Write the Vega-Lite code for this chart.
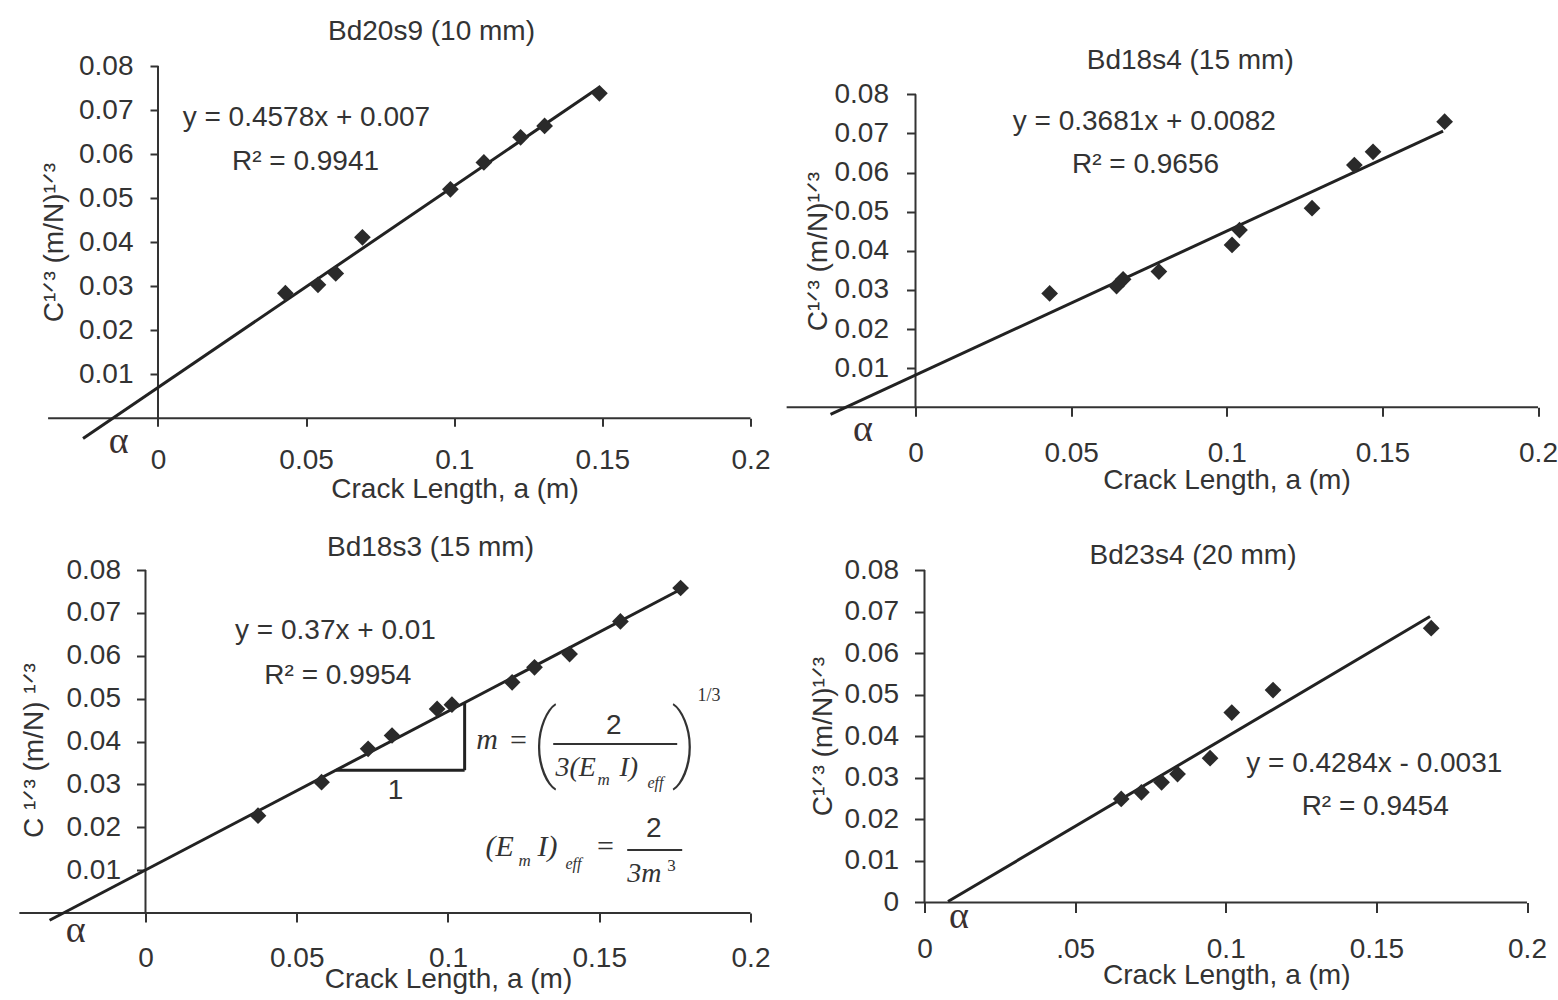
{
  "$schema": "https://vega.github.io/schema/vega-lite/v6.json",
  "background": "white",
  "padding": {"left": 17.5, "top": 18, "right": 5, "bottom": 5},
  "columns": 2,
  "align": "each",
  "bounds": "flush",
  "spacing": {"row": 151, "column": 36},
  "config": {
    "view": {"stroke": null},
    "font": "Liberation Sans",
    "axis": {
      "grid": false, "domain": false,
      "labelFont": "Liberation Sans", "labelFontSize": 28, "labelColor": "#333",
      "titleFont": "Liberation Sans", "titleFontSize": 28, "titleColor": "#333", "titleFontWeight": "normal",
      "tickColor": "#333", "tickWidth": 2,
      "labelFlush": false, "labelOverlap": false, "labelBound": false
    },
    "title": {"font": "Liberation Sans", "fontSize": 28, "fontWeight": "normal", "color": "#333", "anchor": "middle", "frame": "group", "offset": 0, "baseline": "alphabetic"},
    "text": {"font": "Liberation Sans", "fontSize": 28, "color": "#333"},
    "rule": {"color": "#333", "strokeWidth": 2}
  },
  "datasets": {
    "pts": [
      {"spec": "Bd20s9", "a": 0.043, "c": 0.0284},
      {"spec": "Bd20s9", "a": 0.054, "c": 0.0303},
      {"spec": "Bd20s9", "a": 0.060, "c": 0.0329},
      {"spec": "Bd20s9", "a": 0.069, "c": 0.0411},
      {"spec": "Bd20s9", "a": 0.0987, "c": 0.052},
      {"spec": "Bd20s9", "a": 0.110, "c": 0.0581},
      {"spec": "Bd20s9", "a": 0.1224, "c": 0.0638},
      {"spec": "Bd20s9", "a": 0.1305, "c": 0.0664},
      {"spec": "Bd20s9", "a": 0.149, "c": 0.0738},
      {"spec": "Bd18s4", "a": 0.0431, "c": 0.0291},
      {"spec": "Bd18s4", "a": 0.0646, "c": 0.031},
      {"spec": "Bd18s4", "a": 0.0667, "c": 0.0327},
      {"spec": "Bd18s4", "a": 0.0782, "c": 0.0347},
      {"spec": "Bd18s4", "a": 0.1017, "c": 0.0415},
      {"spec": "Bd18s4", "a": 0.1041, "c": 0.0453},
      {"spec": "Bd18s4", "a": 0.1274, "c": 0.0509},
      {"spec": "Bd18s4", "a": 0.141, "c": 0.0619},
      {"spec": "Bd18s4", "a": 0.147, "c": 0.0653},
      {"spec": "Bd18s4", "a": 0.170, "c": 0.073},
      {"spec": "Bd18s3", "a": 0.0372, "c": 0.0227},
      {"spec": "Bd18s3", "a": 0.0582, "c": 0.0305},
      {"spec": "Bd18s3", "a": 0.0736, "c": 0.0383},
      {"spec": "Bd18s3", "a": 0.0815, "c": 0.0414},
      {"spec": "Bd18s3", "a": 0.0964, "c": 0.0476},
      {"spec": "Bd18s3", "a": 0.1013, "c": 0.0486},
      {"spec": "Bd18s3", "a": 0.1212, "c": 0.0538},
      {"spec": "Bd18s3", "a": 0.1286, "c": 0.0573},
      {"spec": "Bd18s3", "a": 0.1402, "c": 0.0604},
      {"spec": "Bd18s3", "a": 0.157, "c": 0.068},
      {"spec": "Bd18s3", "a": 0.1769, "c": 0.0758},
      {"spec": "Bd23s4", "a": 0.0653, "c": 0.0249},
      {"spec": "Bd23s4", "a": 0.072, "c": 0.0265},
      {"spec": "Bd23s4", "a": 0.0787, "c": 0.0289},
      {"spec": "Bd23s4", "a": 0.084, "c": 0.0309},
      {"spec": "Bd23s4", "a": 0.0948, "c": 0.0347},
      {"spec": "Bd23s4", "a": 0.102, "c": 0.0457},
      {"spec": "Bd23s4", "a": 0.1157, "c": 0.0511},
      {"spec": "Bd23s4", "a": 0.1682, "c": 0.066}
    ],
    "fits": [
      {"spec": "Bd20s9", "a0": -0.0253, "c0": -0.0046, "a1": 0.149, "c1": 0.0752},
      {"spec": "Bd18s4", "a0": -0.0273, "c0": -0.0018, "a1": 0.1695, "c1": 0.0706},
      {"spec": "Bd18s3", "a0": -0.0317, "c0": -0.0017, "a1": 0.177, "c1": 0.0755},
      {"spec": "Bd23s4", "a0": 0.0078, "c0": 0.0002, "a1": 0.1678, "c1": 0.0688}
    ]
  },
  "concat": [
    {
      "width": 731, "height": 352.3,
      "title": {"text": "Bd20s9 (10 mm)", "dx": 46.5, "dy": -1.7},
      "data": {"values": [{}]},
      "layer": [
        {"mark": {"type": "rule"}, "encoding": {"x": {"datum": -0.0371}, "x2": {"datum": 0.2}, "y": {"datum": 0}}},
        {"mark": {"type": "rule"}, "encoding": {"x": {"datum": 0}, "y": {"datum": 0}, "y2": {"datum": 0.08}}},
        {
          "data": {"name": "fits"}, "transform": [{"filter": "datum.spec === 'Bd20s9'"}],
          "mark": {"type": "rule", "color": "#222", "strokeWidth": 3},
          "encoding": {"x": {"field": "a0", "type": "quantitative"}, "y": {"field": "c0", "type": "quantitative"}, "x2": {"field": "a1"}, "y2": {"field": "c1"}}
        },
        {
          "data": {"name": "pts"}, "transform": [{"filter": "datum.spec === 'Bd20s9'"}],
          "mark": {"type": "point", "shape": "diamond", "filled": true, "size": 280, "color": "#2a2a2a", "opacity": 1},
          "encoding": {
            "x": {"field": "a", "type": "quantitative", "scale": {"domain": [-0.04675, 0.2], "nice": false, "zero": false},
              "axis": {"title": "Crack Length, a (m)", "values": [0, 0.05, 0.1, 0.15, 0.2], "format": ".2~f", "offset": 0, "tickSize": 8, "labelPadding": 19.7, "titleX": 435, "titleY": 79, "titleBaseline": "alphabetic", "titleAlign": "center"}},
            "y": {"field": "c", "type": "quantitative", "scale": {"domain": [0, 0.08], "nice": false, "zero": false},
              "axis": {"title": "C¹ᐟ³ (m/N)¹ᐟ³", "values": [0.01, 0.02, 0.03, 0.04, 0.05, 0.06, 0.07, 0.08], "format": ".2~f", "offset": -138.5, "tickSize": 8, "labelPadding": 17, "titleAngle": 270, "titleX": -95.5, "titleY": 176, "titleBaseline": "alphabetic", "titleAlign": "center"}}
          }
        },
        {"mark": {"type": "text", "text": "y = 0.4578x + 0.007", "align": "center", "baseline": "middle"}, "encoding": {"x": {"datum": 0.0501}, "y": {"datum": 0.0682}}},
        {"mark": {"type": "text", "text": "R² = 0.9941", "align": "center", "baseline": "middle"}, "encoding": {"x": {"datum": 0.0498}, "y": {"datum": 0.0582}}},
        {"mark": {"type": "text", "text": "α", "font": "Liberation Serif", "fontSize": 38, "color": "#3a3030", "align": "center", "baseline": "middle"}, "encoding": {"x": {"datum": -0.0133}, "y": {"datum": -0.0053}}}
      ]
    },
    {
      "width": 751.5, "height": 352.3,
      "title": {"text": "Bd18s4 (15 mm)", "dx": 28, "dy": 13.3},
      "data": {"values": [{}]},
      "layer": [
        {"mark": {"type": "rule"}, "encoding": {"x": {"datum": -0.0414}, "x2": {"datum": 0.2}, "y": {"datum": 0}}},
        {"mark": {"type": "rule"}, "encoding": {"x": {"datum": 0}, "y": {"datum": 0}, "y2": {"datum": 0.08}}},
        {
          "data": {"name": "fits"}, "transform": [{"filter": "datum.spec === 'Bd18s4'"}],
          "mark": {"type": "rule", "color": "#222", "strokeWidth": 3},
          "encoding": {"x": {"field": "a0", "type": "quantitative"}, "y": {"field": "c0", "type": "quantitative"}, "x2": {"field": "a1"}, "y2": {"field": "c1"}}
        },
        {
          "data": {"name": "pts"}, "transform": [{"filter": "datum.spec === 'Bd18s4'"}],
          "mark": {"type": "point", "shape": "diamond", "filled": true, "size": 280, "color": "#2a2a2a", "opacity": 1},
          "encoding": {
            "x": {"field": "a", "type": "quantitative", "scale": {"domain": [-0.041446, 0.2], "nice": false, "zero": false},
              "axis": {"title": "Crack Length, a (m)", "values": [0, 0.05, 0.1, 0.15, 0.2], "format": ".2~f", "offset": -11, "tickSize": 9, "labelPadding": 22.7, "titleX": 440, "titleY": 80.7, "titleBaseline": "alphabetic", "titleAlign": "center"}},
            "y": {"field": "c", "type": "quantitative", "scale": {"domain": [-0.00281, 0.08723], "nice": false, "zero": false},
              "axis": {"title": "C¹ᐟ³ (m/N)¹ᐟ³", "values": [0.01, 0.02, 0.03, 0.04, 0.05, 0.06, 0.07, 0.08], "format": ".2~f", "offset": -129, "tickSize": 9, "labelPadding": 18, "titleAngle": 270, "titleX": -89, "titleY": 185, "titleBaseline": "alphabetic", "titleAlign": "center"}}
          }
        },
        {"mark": {"type": "text", "text": "y = 0.3681x + 0.0082", "align": "center", "baseline": "middle"}, "encoding": {"x": {"datum": 0.0735}, "y": {"datum": 0.073}}},
        {"mark": {"type": "text", "text": "R² = 0.9656", "align": "center", "baseline": "middle"}, "encoding": {"x": {"datum": 0.0739}, "y": {"datum": 0.0619}}},
        {"mark": {"type": "text", "text": "α", "font": "Liberation Serif", "fontSize": 38, "color": "#3a3030", "align": "center", "baseline": "middle"}, "encoding": {"x": {"datum": -0.0169}, "y": {"datum": -0.0058}}}
      ]
    },
    {
      "width": 731, "height": 343,
      "title": {"text": "Bd18s3 (15 mm)", "dx": 45.5, "dy": 9.7},
      "data": {"values": [{}]},
      "layer": [
        {"mark": {"type": "rule"}, "encoding": {"x": {"datum": -0.0417}, "x2": {"datum": 0.2}, "y": {"datum": 0}}},
        {"mark": {"type": "rule"}, "encoding": {"x": {"datum": 0}, "y": {"datum": 0}, "y2": {"datum": 0.08}}},
        {
          "data": {"name": "fits"}, "transform": [{"filter": "datum.spec === 'Bd18s3'"}],
          "mark": {"type": "rule", "color": "#222", "strokeWidth": 3},
          "encoding": {"x": {"field": "a0", "type": "quantitative"}, "y": {"field": "c0", "type": "quantitative"}, "x2": {"field": "a1"}, "y2": {"field": "c1"}}
        },
        {"mark": {"type": "rule", "color": "#222", "strokeWidth": 3}, "encoding": {"x": {"datum": 0.063}, "x2": {"datum": 0.1055}, "y": {"datum": 0.0333}}},
        {"mark": {"type": "rule", "color": "#222", "strokeWidth": 3}, "encoding": {"x": {"datum": 0.1055}, "y": {"datum": 0.0333}, "y2": {"datum": 0.04904}}},
        {
          "data": {"name": "pts"}, "transform": [{"filter": "datum.spec === 'Bd18s3'"}],
          "mark": {"type": "point", "shape": "diamond", "filled": true, "size": 280, "color": "#2a2a2a", "opacity": 1},
          "encoding": {
            "x": {"field": "a", "type": "quantitative", "scale": {"domain": [-0.04165, 0.2], "nice": false, "zero": false},
              "axis": {"title": "Crack Length, a (m)", "values": [0, 0.05, 0.1, 0.15, 0.2], "format": ".2~f", "offset": 0, "tickSize": 9, "labelPadding": 22.7, "titleX": 428.5, "titleY": 74.7, "titleBaseline": "alphabetic", "titleAlign": "center"}},
            "y": {"field": "c", "type": "quantitative", "scale": {"domain": [0, 0.08], "nice": false, "zero": false},
              "axis": {"title": "C ¹ᐟ³ (m/N) ¹ᐟ³", "values": [0.01, 0.02, 0.03, 0.04, 0.05, 0.06, 0.07, 0.08], "format": ".2~f", "offset": -126, "tickSize": 9, "labelPadding": 16, "titleAngle": 270, "titleX": -103, "titleY": 180, "titleBaseline": "alphabetic", "titleAlign": "center"}}
          }
        },
        {"mark": {"type": "text", "text": "y = 0.37x + 0.01", "align": "center", "baseline": "middle"}, "encoding": {"x": {"datum": 0.0628}, "y": {"datum": 0.0657}}},
        {"mark": {"type": "text", "text": "R² = 0.9954", "align": "center", "baseline": "middle"}, "encoding": {"x": {"datum": 0.0636}, "y": {"datum": 0.0553}}},
        {"mark": {"type": "text", "text": "1", "align": "center", "baseline": "alphabetic"}, "encoding": {"x": {"datum": 0.08264}, "y": {"datum": 0.02666}}},
        {"mark": {"type": "text", "text": "m", "font": "Liberation Serif", "fontStyle": "italic", "fontSize": 30, "align": "center", "baseline": "alphabetic"}, "encoding": {"x": {"datum": 0.11296}, "y": {"datum": 0.03826}}},
        {"mark": {"type": "text", "text": "=", "font": "Liberation Serif", "fontSize": 30, "align": "center", "baseline": "alphabetic"}, "encoding": {"x": {"datum": 0.1233}, "y": {"datum": 0.0381}}},
        {"mark": {"type": "text", "text": "(", "font": "Roboto", "fontWeight": 100, "fontSize": 86, "align": "center", "baseline": "alphabetic"}, "encoding": {"x": {"datum": 0.1319}, "y": {"datum": 0.0332}}},
        {"mark": {"type": "text", "text": ")", "font": "Roboto", "fontWeight": 100, "fontSize": 86, "align": "center", "baseline": "alphabetic"}, "encoding": {"x": {"datum": 0.1782}, "y": {"datum": 0.0332}}},
        {"mark": {"type": "text", "text": "2", "align": "center", "baseline": "alphabetic"}, "encoding": {"x": {"datum": 0.1548}, "y": {"datum": 0.04175}}},
        {"mark": {"type": "rule", "strokeWidth": 2}, "encoding": {"x": {"datum": 0.13478}, "x2": {"datum": 0.17577}, "y": {"datum": 0.03942}}},
        {"mark": {"type": "text", "text": "3(E", "font": "Liberation Serif", "fontStyle": "italic", "fontSize": 28, "align": "left", "baseline": "alphabetic"}, "encoding": {"x": {"datum": 0.13554}, "y": {"datum": 0.03203}}},
        {"mark": {"type": "text", "text": "m", "font": "Liberation Serif", "fontStyle": "italic", "fontSize": 17, "align": "left", "baseline": "alphabetic"}, "encoding": {"x": {"datum": 0.14942}, "y": {"datum": 0.02993}}},
        {"mark": {"type": "text", "text": "I)", "font": "Liberation Serif", "fontStyle": "italic", "fontSize": 28, "align": "left", "baseline": "alphabetic"}, "encoding": {"x": {"datum": 0.15669}, "y": {"datum": 0.03203}}},
        {"mark": {"type": "text", "text": "eff", "font": "Liberation Serif", "fontStyle": "italic", "fontSize": 16, "align": "left", "baseline": "alphabetic"}, "encoding": {"x": {"datum": 0.16595}, "y": {"datum": 0.02923}}},
        {"mark": {"type": "text", "text": "1/3", "font": "Liberation Serif", "fontSize": 18, "align": "left", "baseline": "alphabetic"}, "encoding": {"x": {"datum": 0.18248}, "y": {"datum": 0.04952}}},
        {"mark": {"type": "text", "text": "(E", "font": "Liberation Serif", "fontStyle": "italic", "fontSize": 30, "align": "left", "baseline": "alphabetic"}, "encoding": {"x": {"datum": 0.1124}, "y": {"datum": 0.01337}}},
        {"mark": {"type": "text", "text": "m", "font": "Liberation Serif", "fontStyle": "italic", "fontSize": 17, "align": "left", "baseline": "alphabetic"}, "encoding": {"x": {"datum": 0.12331}, "y": {"datum": 0.01105}}},
        {"mark": {"type": "text", "text": "I)", "font": "Liberation Serif", "fontStyle": "italic", "fontSize": 30, "align": "left", "baseline": "alphabetic"}, "encoding": {"x": {"datum": 0.12959}, "y": {"datum": 0.01337}}},
        {"mark": {"type": "text", "text": "eff", "font": "Liberation Serif", "fontStyle": "italic", "fontSize": 16, "align": "left", "baseline": "alphabetic"}, "encoding": {"x": {"datum": 0.13884}, "y": {"datum": 0.01036}}},
        {"mark": {"type": "text", "text": "=", "font": "Liberation Serif", "fontSize": 30, "align": "center", "baseline": "alphabetic"}, "encoding": {"x": {"datum": 0.15207}, "y": {"datum": 0.01337}}},
        {"mark": {"type": "text", "text": "2", "align": "center", "baseline": "alphabetic"}, "encoding": {"x": {"datum": 0.16804}, "y": {"datum": 0.01764}}},
        {"mark": {"type": "rule", "strokeWidth": 2}, "encoding": {"x": {"datum": 0.15924}, "x2": {"datum": 0.17742}, "y": {"datum": 0.0147}}},
        {"mark": {"type": "text", "text": "3m", "font": "Liberation Serif", "fontStyle": "italic", "fontSize": 28, "align": "left", "baseline": "alphabetic"}, "encoding": {"x": {"datum": 0.15924}, "y": {"datum": 0.00714}}},
        {"mark": {"type": "text", "text": "3", "font": "Liberation Serif", "fontSize": 17, "align": "left", "baseline": "alphabetic"}, "encoding": {"x": {"datum": 0.17246}, "y": {"datum": 0.00987}}},
        {"mark": {"type": "text", "text": "α", "font": "Liberation Serif", "fontSize": 38, "color": "#3a3030", "align": "center", "baseline": "middle"}, "encoding": {"x": {"datum": -0.0231}, "y": {"datum": -0.0041}}}
      ]
    },
    {
      "width": 751.5, "height": 343,
      "title": {"text": "Bd23s4 (20 mm)", "dx": 30.75, "dy": 18},
      "data": {"values": [{}]},
      "layer": [
        {"mark": {"type": "rule"}, "encoding": {"x": {"datum": 0}, "x2": {"datum": 0.2}, "y": {"datum": 0}}},
        {"mark": {"type": "rule"}, "encoding": {"x": {"datum": 0}, "y": {"datum": 0}, "y2": {"datum": 0.08}}},
        {
          "data": {"name": "fits"}, "transform": [{"filter": "datum.spec === 'Bd23s4'"}],
          "mark": {"type": "rule", "color": "#222", "strokeWidth": 3},
          "encoding": {"x": {"field": "a0", "type": "quantitative"}, "y": {"field": "c0", "type": "quantitative"}, "x2": {"field": "a1"}, "y2": {"field": "c1"}}
        },
        {
          "data": {"name": "pts"}, "transform": [{"filter": "datum.spec === 'Bd23s4'"}],
          "mark": {"type": "point", "shape": "diamond", "filled": true, "size": 280, "color": "#2a2a2a", "opacity": 1},
          "encoding": {
            "x": {"field": "a", "type": "quantitative", "scale": {"domain": [-0.04581, 0.20365], "nice": false, "zero": false},
              "axis": {"title": "Crack Length, a (m)", "values": [0, 0.05, 0.1, 0.15, 0.2], "labelExpr": "datum.value == 0.05 ? '.05' : format(datum.value, '.2~f')", "offset": -10.6, "tickSize": 10, "labelPadding": 23.3, "titleX": 439.75, "titleY": 81.3, "titleBaseline": "alphabetic", "titleAlign": "center"}},
            "y": {"field": "c", "type": "quantitative", "scale": {"domain": [-0.00255, 0.08], "nice": false, "zero": false},
              "axis": {"title": "C¹ᐟ³ (m/N)¹ᐟ³", "values": [0, 0.01, 0.02, 0.03, 0.04, 0.05, 0.06, 0.07, 0.08], "format": ".2~f", "offset": -138, "tickSize": 10, "labelPadding": 16, "titleAngle": 270, "titleX": -93, "titleY": 166, "titleBaseline": "alphabetic", "titleAlign": "center"}}
          }
        },
        {"mark": {"type": "text", "text": "y = 0.4284x - 0.0031", "align": "center", "baseline": "middle"}, "encoding": {"x": {"datum": 0.1493}, "y": {"datum": 0.0333}}},
        {"mark": {"type": "text", "text": "R² = 0.9454", "align": "center", "baseline": "middle"}, "encoding": {"x": {"datum": 0.1496}, "y": {"datum": 0.0229}}},
        {"mark": {"type": "text", "text": "α", "font": "Liberation Serif", "fontSize": 38, "color": "#3a3030", "align": "center", "baseline": "middle"}, "encoding": {"x": {"datum": 0.0114}, "y": {"datum": -0.0036}}}
      ]
    }
  ]
}
